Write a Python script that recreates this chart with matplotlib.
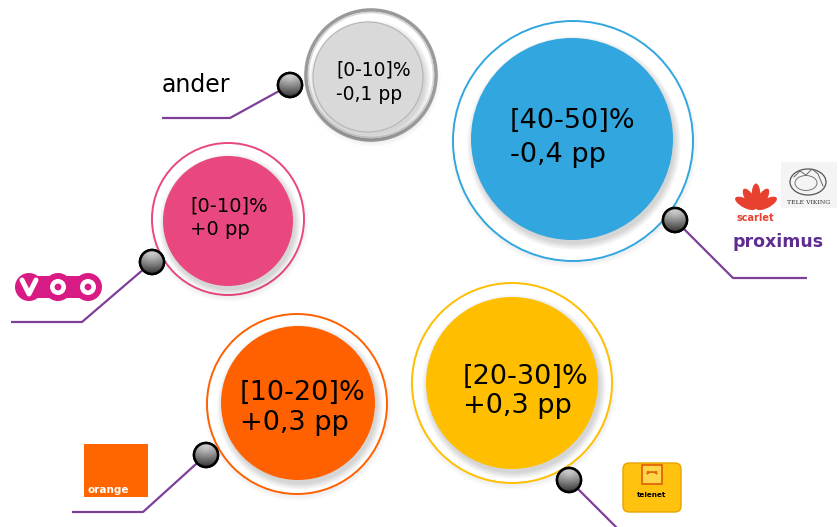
import numpy as np
import matplotlib
matplotlib.use("Agg")
import matplotlib.pyplot as plt
from matplotlib.patches import Circle, Ellipse, Rectangle, FancyBboxPatch, Arc

# ---------------- data ----------------
operators = ["ander", "VOO", "Proximus", "Orange", "Telenet"]
share_ranges = ["[0-10]%", "[0-10]%", "[40-50]%", "[10-20]%", "[20-30]%"]
pp_changes = ["-0,1 pp", "+0 pp", "-0,4 pp", "+0,3 pp", "+0,3 pp"]

# ---------------- style / layout ----------------
fill_colors = ["#d9d9d9", "#e9477f", "#31a6df", "#ff6000", "#ffbf00"]
ring_colors = ["#a6a6a6", "#e9477f", "#31a6df", "#ff6000", "#ffbf00"]
# (outer cx, cy, r, inner cx, cy, r)
geo = [
    (371, 75, 65, 368, 77, 55),
    (228, 219, 76, 228, 221, 65),
    (573, 141, 120, 572, 139, 101),
    (297, 404, 90, 298, 403, 77),
    (512, 383, 100, 512, 383, 86),
]
# text x, baseline1, baseline2, fontsize (pt)
txt = [
    (336, 75, 100, 13.5),
    (190, 212, 235, 14),
    (510, 128, 162, 19.5),
    (240, 400, 430, 19.5),
    (463, 384, 413, 19.5),
]
knobs = [(290, 85), (152, 262), (675, 220), (206, 455), (569, 480)]
leaders = [
    [(290, 85), (230, 118), (162, 118)],
    [(152, 262), (82, 322), (11, 322)],
    [(675, 220), (733, 278), (807, 278)],
    [(206, 455), (143, 512), (72, 512)],
    [(569, 480), (618, 529)],
]
line_color = "#7e3f98"

W, H = 838, 527
fig = plt.figure(figsize=(W / 100, H / 100), dpi=100)
ax = fig.add_axes([0, 0, 1, 1])
ax.set_xlim(0, W)
ax.set_ylim(H, 0)
ax.set_aspect("equal")
ax.axis("off")

# bubbles
for i in range(len(operators)):
    cx, cy, ro, ci, cj, ri = geo[i]
    for k in range(5):
        ax.add_patch(Circle((cx + 1, cy + 3), ro + 4 - k, fc="black", alpha=0.012, ec="none", zorder=1))
    if i == 0:
        ax.add_patch(Circle((cx, cy), ro, fc="white", ec="#9a9a9a", lw=2.6, zorder=2))
        ax.add_patch(Circle((cx, cy), ro - 2.5, fc="none", ec="#d6d6d6", lw=1.2, zorder=2))
    else:
        ax.add_patch(Circle((cx, cy), ro, fc="white", ec=ring_colors[i], lw=1.4, zorder=2))
    for k in range(7):
        ax.add_patch(Circle((ci + 2, cj + 4), ri + 6 - k, fc="black", alpha=0.022, ec="none", zorder=3))
    edge = "#b5b5b5" if i == 0 else "none"
    ax.add_patch(Circle((ci, cj), ri, fc=fill_colors[i], ec=edge, lw=0.8, zorder=4))
    tx, b1, b2, fs = txt[i]
    ax.text(tx, b1, share_ranges[i], fontsize=fs, va="baseline", ha="left",
            color="black", family="DejaVu Sans", zorder=5)
    ax.text(tx, b2, pp_changes[i], fontsize=fs, va="baseline", ha="left",
            color="black", family="DejaVu Sans", zorder=5)

# leader lines
for pts in leaders:
    xs = [p[0] for p in pts]
    ys = [p[1] for p in pts]
    ax.plot(xs, ys, color=line_color, lw=1.6, zorder=6, solid_capstyle="butt")

# knobs with gradient
n = 64
yy, xx = np.mgrid[-1:1:n * 1j, -1:1:n * 1j]
shade = 0.88 - 0.50 * (yy + 1) / 2 - 0.12 * np.sqrt((xx) ** 2 + (yy + 0.5) ** 2)
shade = np.clip(shade, 0.25, 0.95)
for (kx, ky) in knobs:
    r = 12
    c = Circle((kx, ky), r, fc="#999999", ec="black", lw=1.8, zorder=8)
    ax.add_patch(c)
    im = ax.imshow(shade, cmap="gray", vmin=0, vmax=1, extent=(kx - r, kx + r, ky + r, ky - r),
                   origin="upper", zorder=8.5, interpolation="bilinear")
    im.set_clip_path(c)
    ax.add_patch(Circle((kx, ky), r, fc="none", ec="black", lw=1.8, zorder=9))

# "ander" label
ax.text(162, 92, "ander", fontsize=17, va="baseline", ha="left", color="black",
        family="DejaVu Sans", zorder=5)

# ---------------- logos ----------------
# VOO
voo = "#d81b84"
for x in (29, 58, 88):
    ax.add_patch(Circle((x, 287), 14, fc=voo, ec="none", zorder=5))
ax.add_patch(Rectangle((29, 276), 59, 22, fc=voo, ec="none", zorder=5))
ax.plot([22, 29, 36], [280, 294, 280], color="white", lw=3.6, zorder=6,
        solid_capstyle="round", solid_joinstyle="round")
for x in (58, 88):
    ax.add_patch(Circle((x, 287), 8.0, fc="white", ec="none", zorder=6))
    ax.add_patch(Circle((x, 287), 3.4, fc=voo, ec="none", zorder=7))

# Orange
ax.add_patch(Rectangle((84, 444), 64, 53, fc="#ff6600", ec="none", zorder=5))
ax.text(87, 493, "orange", fontsize=7.5, color="white", fontweight="bold",
        va="baseline", ha="left", zorder=6)

# Telenet
ax.add_patch(FancyBboxPatch((625, 465), 54, 45, boxstyle="round,pad=2,rounding_size=6",
                            fc="#ffc20e", ec="#eaa300", lw=1.0, zorder=5))
ax.add_patch(Rectangle((642, 465), 20, 19, fc="#ffd54a", ec="#e0650a", lw=1.3, zorder=6))
ax.add_patch(Circle((648, 472), 1.2, fc="#e0650a", ec="none", zorder=7))
ax.add_patch(Circle((656, 472), 1.2, fc="#e0650a", ec="none", zorder=7))
ax.add_patch(Arc((652, 476), 12, 8, theta1=200, theta2=340, ec="#e0650a", lw=1.3, zorder=7))
ax.text(652, 497, "telenet", fontsize=5.2, color="black", fontweight="bold",
        va="baseline", ha="center", zorder=6)

# Scarlet
scarlet = "#e8412f"
px, py = 756, 209
for a in (-62, -31, 0, 31, 62):
    ar = np.deg2rad(a)
    dx, dy = np.sin(ar), -np.cos(ar)
    L = 25 if a == 0 else 23
    cx_, cy_ = px + dx * L * 0.52, py + dy * L * 0.52
    ang = np.degrees(np.arctan2(dy, dx))
    ax.add_patch(Ellipse((cx_, cy_), L, 9, angle=ang, fc=scarlet, ec="none", zorder=5))
ax.text(755, 221, "scarlet", fontsize=7, color=scarlet, fontweight="bold",
        va="baseline", ha="center", zorder=6)

# Tele Viking (sketch)
ax.add_patch(Rectangle((781, 162), 56, 46, fc="#f4f4f4", ec="none", zorder=4))
ax.add_patch(Ellipse((808, 182), 36, 26, fc="none", ec="#555555", lw=0.9, zorder=5))
ax.add_patch(Ellipse((806, 183), 22, 15, fc="none", ec="#777777", lw=0.7, zorder=5))
ax.plot([794, 800, 806, 812, 818, 823], [177, 171, 175, 169, 174, 186], color="#666666", lw=0.7, zorder=5)
ax.text(809, 204, "TELE VIKING", fontsize=4.4, color="#333333", family="DejaVu Serif",
        va="baseline", ha="center", zorder=6)

# Proximus
ax.text(778, 247, "proximus", fontsize=12.5, color="#5e2d91", va="baseline", ha="center",
        fontweight="bold", zorder=6)

ax.set_xlim(0, W)
ax.set_ylim(H, 0)
fig.savefig("out.png", dpi=100, facecolor="white")
